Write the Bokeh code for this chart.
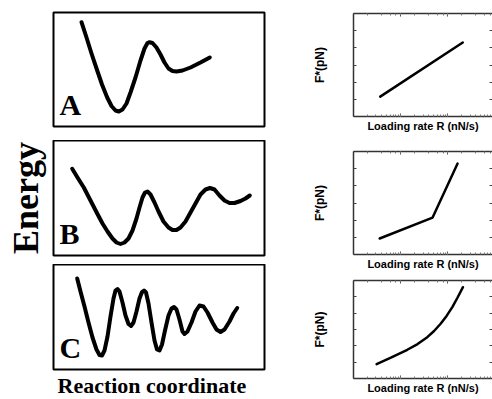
from bokeh.plotting import figure
from bokeh.layouts import row, column
from bokeh.models import Label, LinearAxis, LogAxis, Range1d, FixedTicker, Title
from bokeh.embed import file_html
from bokeh.resources import INLINE

# ---------------- energy landscapes (arbitrary units) ----------------
# x: reaction coordinate, e: energy
a_x = [28, 33, 38, 43.7, 48.5, 53.7, 58, 62, 65.3, 69, 73, 77, 82, 87, 91, 94, 96,
       99, 103, 107, 111, 115, 119, 123, 129, 137, 147, 156.3]
a_e = [104.3, 89, 73, 56, 42, 29, 20.5, 16, 15, 17, 23, 34, 49, 66, 78, 83.5, 84.3,
       83.5, 79, 72, 64, 58, 55.5, 55, 56, 59, 64, 69]

b_x = [18.7, 24, 30.3, 37, 43.7, 49, 54, 59, 63, 67, 71, 75, 79, 83, 86, 89, 91.5, 94,
       97, 101, 105, 110, 115, 119, 123, 127, 132, 137, 142, 147, 152, 156.5, 161, 166,
       171, 176, 181, 187, 192, 196.3]
b_e = [86.7, 78, 68, 55, 42, 32, 24, 17, 13, 11.5, 13, 17, 25, 37, 48, 58, 63, 64,
       61, 53, 44, 34, 28, 25.5, 25.5, 28, 34, 43, 52, 61, 66, 67.5, 66, 60,
       55, 52.5, 52.5, 54.5, 57, 60]

c_x = [23.7, 27, 31, 35, 39, 43, 46, 48.5, 51, 54, 57, 60, 62, 64, 66, 69, 72, 75, 77.5,
       80, 83, 86, 88.5, 90.5, 92.5, 95, 98, 101, 103.5, 106, 108.5, 111.5, 115, 118,
       120.5, 123, 126, 129, 131, 134, 138, 142, 146, 150, 154, 159, 163, 167, 171,
       176, 180, 183.7]
c_e = [91, 78, 63, 47, 32, 20, 14.5, 14, 19, 33, 53, 71, 79, 80.5, 78, 67, 54, 45.5, 43.5,
       47, 58, 71, 77.5, 79, 77, 66, 47, 29, 20, 19, 25, 39, 54, 61,
       62.5, 60, 50, 38, 35.5, 38, 47, 58, 64, 63, 57, 47, 40, 37.5, 40,
       48, 56, 61.5]

letters = ["A", "B", "C"]

# ---------------- force spectra ----------------
r_a = [0.37, 21]
f_a = [1.16, 4.31]
r_b = [0.36, 4.8, 16.3]
f_b = [0.93, 2.15, 5.3]
r_c = [0.31, 0.64, 1.39, 2.30, 3.7, 5.16, 7.1, 9.53, 12.6, 16.3, 21.2]
f_c = [0.88, 1.29, 1.76, 2.11, 2.53, 2.91, 3.35, 3.83, 4.37, 4.96, 5.59]
f_ticks = [1, 2, 3, 4, 5]

SERIF = "Liberation Serif"
SANS = "Liberation Sans"


def hide_ticks(ax):
    ax.major_tick_line_color = None
    ax.minor_tick_line_color = None
    ax.axis_line_color = None
    ax.major_label_text_font_size = "1px"
    ax.major_label_text_alpha = 0
    ax.major_label_standoff = 0
    ax.major_tick_in = 0
    ax.major_tick_out = 0
    ax.minor_tick_in = 0
    ax.minor_tick_out = 0


def energy_panel(xs, es, letter, frame_h, top, bottom):
    p = figure(width=300, height=top + frame_h + bottom,
               x_range=Range1d(0, 211), y_range=Range1d(0, frame_h),
               toolbar_location=None, output_backend="svg",
               x_axis_location=None, y_axis_location=None,
               min_border_left=53, min_border_right=36,
               min_border_top=top, min_border_bottom=bottom)
    p.grid.visible = False
    p.outline_line_color = "black"
    p.outline_line_width = 2
    p.line(xs, es, line_width=4, line_color="black",
           line_join="round", line_cap="round")
    p.add_layout(Label(x=6, y=22, x_units="screen", y_units="screen", text=letter,
                       text_font=SERIF, text_font_style="bold",
                       text_font_size="30px", text_baseline="alphabetic",
                       text_align="left", text_color="black"))
    return p


pA = energy_panel(a_x, a_e, letters[0], 114, 12, 14)
pB = energy_panel(b_x, b_e, letters[1], 115, 0, 9)
pC = energy_panel(c_x, c_e, letters[2], 105, 0, 30)

ay = LinearAxis(axis_label="Energy", axis_label_text_font=SERIF,
                axis_label_text_font_style="bold", axis_label_text_font_size="36px",
                axis_label_standoff=8, axis_label_text_color="black")
hide_ticks(ay)
pB.add_layout(ay, "left")

pC.add_layout(Title(text="Reaction coordinate", align="left", offset=4, standoff=2,
                    text_font=SERIF, text_font_style="bold", text_font_size="22px",
                    text_color="black"), "below")


def force_panel(rs, fs, top, frame_h, bottom):
    p = figure(width=192, height=top + frame_h + bottom, x_axis_type="log",
               x_range=Range1d(0.1, 90), y_range=Range1d(0, 6),
               toolbar_location=None, output_backend="svg",
               min_border_left=53, min_border_right=0,
               min_border_top=top, min_border_bottom=bottom)
    p.grid.visible = False
    p.outline_line_color = None
    p.add_layout(LogAxis(), "above")
    p.add_layout(LinearAxis(), "right")
    for ax in p.axis:
        ax.axis_line_color = "#333333"
        ax.axis_line_width = 1.5
        ax.major_tick_line_color = "#444444"
        ax.minor_tick_line_color = "#777777"
        ax.major_tick_in = 3
        ax.major_tick_out = 0
        ax.minor_tick_in = 2
        ax.minor_tick_out = 0
        ax.major_label_text_font_size = "1px"
        ax.major_label_text_alpha = 0
        ax.major_label_standoff = 0
    for ax in p.yaxis:
        ax.ticker = FixedTicker(ticks=f_ticks, minor_ticks=[])
    p.right[0].axis_line_color = None
    lx = p.below[0]
    lx.axis_label = "Loading rate R (nN/s)"
    lx.axis_label_text_font = SANS
    lx.axis_label_text_font_style = "bold"
    lx.axis_label_text_font_size = "11px"
    lx.axis_label_standoff = 3
    lx.axis_label_text_color = "black"
    ly = p.left[0]
    ly.axis_label = "F*(pN)"
    ly.axis_label_text_font = SANS
    ly.axis_label_text_font_style = "bold"
    ly.axis_label_text_font_size = "12px"
    ly.axis_label_standoff = 27
    ly.axis_label_text_color = "black"
    p.line(rs, fs, line_width=2.5, line_color="black", line_cap="round")
    return p


p1 = force_panel(r_a, f_a, 13, 103, 20)
p2 = force_panel(r_b, f_b, 15, 103, 21)
p3 = force_panel(r_c, f_c, 5, 98, 21)

layout = row(column(pA, pB, pC), column(p1, p2, p3))

open("out.html", "w").write(file_html(layout, INLINE))
